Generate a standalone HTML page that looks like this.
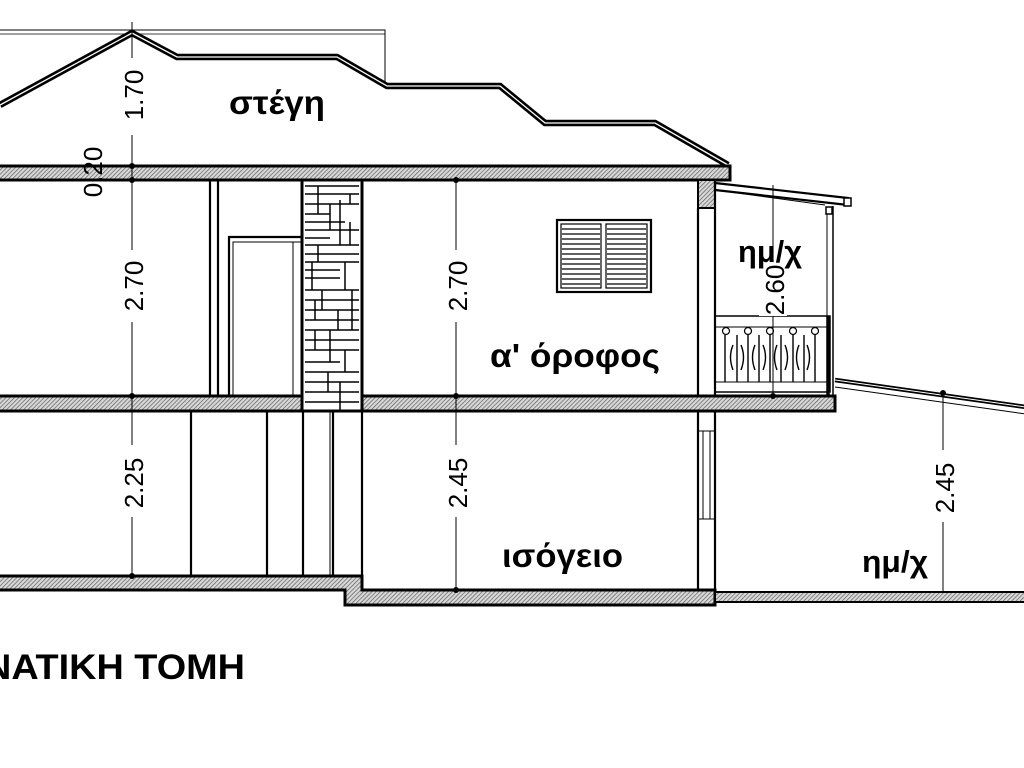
<!DOCTYPE html>
<html><head><meta charset="utf-8"><style>html,body{margin:0;padding:0;background:#fff;width:1024px;height:768px;overflow:hidden}</style></head><body>
<svg width="1024" height="768" viewBox="0 0 1024 768" xmlns="http://www.w3.org/2000/svg" font-family="Liberation Sans, DejaVu Sans, sans-serif">
<defs>
<pattern id="h" width="3" height="3" patternUnits="userSpaceOnUse" patternTransform="rotate(45)">
<rect width="3" height="3" fill="#d8d8d8"/><line x1="0" y1="0" x2="0" y2="3" stroke="#555" stroke-width="1.3"/></pattern>
</defs>
<polyline points="0,30 385,30 385,84" fill="none" stroke="#000" stroke-width="1"/>
<polyline points="0,34 385,34" fill="none" stroke="#000" stroke-width="0.8"/>
<polyline points="0,105 132,33 177,57 337,57 387,86 500,86 545,123 655,123 728,165" fill="none" stroke="#000" stroke-width="6.5"/>
<polyline points="0,105 132,33 177,57 337,57 387,86 500,86 545,123 655,123 728,165" fill="none" stroke="#fff" stroke-width="1.3"/>
<rect x="-2" y="166" width="732" height="14" fill="url(#h)" stroke="#000" stroke-width="3"/>
<rect x="698" y="180" width="17" height="28" fill="url(#h)" stroke="#000" stroke-width="2"/>
<rect x="-2" y="396" width="304" height="15" fill="url(#h)" stroke="#000" stroke-width="3"/>
<rect x="362" y="396" width="473" height="15" fill="url(#h)" stroke="#000" stroke-width="3"/>
<polygon points="-2,576 362,576 362,590 715,590 715,605 345,605 345,590 -2,590" fill="url(#h)" stroke="#000" stroke-width="3"/>
<rect x="715" y="592" width="312" height="10" fill="url(#h)" stroke="#000" stroke-width="2"/>
<rect x="302" y="180" width="60" height="231" fill="#fff" stroke="#000" stroke-width="3"/>
<g stroke="#000" stroke-width="1.5" fill="none">
<path d="M305,186 H359 M305,194 H359 M305,204 H359 M305,214 H330 M330,204 V230 M305,222 H345 M305,230 H359 M340,200 V245 M305,238 H330 M305,245 H359 M318,245 V262 M305,254 H359 M305,262 H359 M345,262 V290 M305,270 H340 M305,278 H340 M305,290 H359 M322,290 V310 M305,300 H359 M305,310 H359 M338,310 V330 M305,320 H359 M305,330 H359 M315,330 V350 M305,340 H359 M305,350 H359 M345,350 V372 M305,362 H340 M305,372 H359 M328,372 V392 M305,382 H359 M305,392 H359 M305,402 H359 M318,186 V214 M350,222 V245 M312,262 V290 M352,290 V330 M330,330 V362 M340,382 V411 M315,300 V320 M350,194 V204"/>
</g>
<g stroke="#000" stroke-width="2.2" fill="none">
<line x1="210" y1="180" x2="210" y2="396"/><line x1="218" y1="180" x2="218" y2="396"/>
<polyline points="229,396 229,237 301,237"/><polyline points="233,396 233,242 301,242" stroke-width="1"/>
<line x1="293" y1="242" x2="293" y2="396" stroke-width="1"/>
<line x1="698" y1="208" x2="698" y2="396"/><line x1="715" y1="180" x2="715" y2="396"/>
<line x1="191" y1="411" x2="191" y2="576"/><line x1="267" y1="411" x2="267" y2="576"/>
<line x1="303" y1="411" x2="303" y2="576"/><line x1="330" y1="411" x2="330" y2="576" stroke-width="1"/><line x1="333" y1="411" x2="333" y2="576"/>
<line x1="362" y1="411" x2="362" y2="590"/>
<line x1="698" y1="411" x2="698" y2="590"/><line x1="715" y1="411" x2="715" y2="590"/>
<line x1="698" y1="431" x2="715" y2="431" stroke-width="1"/><line x1="698" y1="519" x2="715" y2="519" stroke-width="1"/>
<line x1="703" y1="431" x2="703" y2="519" stroke-width="1"/><line x1="710" y1="431" x2="710" y2="519" stroke-width="1"/>
</g>
<rect x="557" y="220" width="94" height="72" fill="#fff" stroke="#000" stroke-width="2.2"/>
<rect x="561" y="224" width="40" height="64" fill="none" stroke="#000" stroke-width="1.2"/>
<rect x="606" y="224" width="41" height="64" fill="none" stroke="#000" stroke-width="1.2"/>
<g stroke="#000" stroke-width="1.2">
<path d="M562,229H600M562,234H600M562,239H600M562,244H600M562,249H600M562,254H600M562,259H600M562,264H600M562,269H600M562,274H600M562,279H600M562,284H600M607,229H646M607,234H646M607,239H646M607,244H646M607,249H646M607,254H646M607,259H646M607,264H646M607,269H646M607,274H646M607,279H646M607,284H646"/></g>
<polygon points="715,183 848,198 848,205 715,190" fill="none" stroke="#000" stroke-width="2.2"/>
<line x1="716" y1="190" x2="825" y2="205" stroke="#000" stroke-width="1"/>
<rect x="844" y="198" width="7" height="8" fill="#fff" stroke="#000" stroke-width="1.5"/>
<rect x="826" y="207" width="6" height="7" fill="#fff" stroke="#000" stroke-width="1.5"/>
<line x1="827" y1="214" x2="827" y2="316" stroke="#000" stroke-width="1"/><line x1="833" y1="206" x2="833" y2="396" stroke="#000" stroke-width="1.5"/>
<rect x="715" y="316" width="115" height="76" fill="none" stroke="#000" stroke-width="1.5"/>
<line x1="828" y1="316" x2="828" y2="396" stroke="#000" stroke-width="3.5"/>
<line x1="715" y1="327" x2="827" y2="327" stroke="#000" stroke-width="1"/>
<line x1="715" y1="382" x2="827" y2="382" stroke="#000" stroke-width="1"/>
<g stroke="#000" stroke-width="1.2" fill="#fff">
<circle cx="726" cy="331" r="3.5"/><circle cx="748" cy="331" r="3.5"/><circle cx="770" cy="331" r="3.5"/><circle cx="793" cy="331" r="3.5"/><circle cx="815" cy="331" r="3.5"/>
</g>
<g stroke="#000" stroke-width="1.4" fill="none">
<path d="M725,335V382M737,335V382M748,335V382M759,335V382M770,335V382M781,335V382M793,335V382M804,335V382M815,335V382"/>
<path d="M733,345Q728,357 733,370M741,345Q746,357 741,370M755,345Q750,357 755,370M763,345Q768,357 763,370M777,345Q772,357 777,370M785,345Q790,357 785,370M799,345Q794,357 799,370M807,345Q812,357 807,370"/>
</g>
<polyline points="835,380 1026,407" fill="none" stroke="#000" stroke-width="4.5"/>
<polyline points="835,380 1026,407" fill="none" stroke="#fff" stroke-width="1"/>
<line x1="835" y1="387" x2="1026" y2="414" stroke="#000" stroke-width="1"/>
<g stroke="#000" stroke-width="1">
<line x1="132" y1="22" x2="132" y2="58"/><line x1="132" y1="135" x2="132" y2="576"/>
<line x1="456" y1="180" x2="456" y2="590"/>
<line x1="773" y1="185" x2="773" y2="396"/>
<line x1="943" y1="393" x2="943" y2="592"/>
</g>
<g fill="#000"><circle cx="132" cy="166" r="3"/><circle cx="132" cy="180" r="3"/><circle cx="132" cy="396" r="3"/><circle cx="132" cy="576" r="3"/>
<circle cx="456" cy="180" r="3"/><circle cx="456" cy="396" r="3"/><circle cx="456" cy="590" r="3"/><circle cx="773" cy="396" r="3"/><circle cx="943" cy="393" r="3"/></g>
<g fill="#fff"><rect x="118" y="60" width="28" height="70"/><rect x="118" y="250" width="28" height="72"/><rect x="118" y="445" width="28" height="72"/><rect x="442" y="250" width="28" height="72"/><rect x="442" y="445" width="28" height="72"/><rect x="929" y="450" width="28" height="72"/><rect x="759" y="262" width="28" height="54"/></g>
<g font-size="26" fill="#000">
<text transform="translate(143,95) rotate(-90)" text-anchor="middle">1.70</text>
<text transform="translate(102,172) rotate(-90)" text-anchor="middle">0.20</text>
<text transform="translate(143,286) rotate(-90)" text-anchor="middle">2.70</text>
<text transform="translate(143,483) rotate(-90)" text-anchor="middle">2.25</text>
<text transform="translate(467,286) rotate(-90)" text-anchor="middle">2.70</text>
<text transform="translate(467,483) rotate(-90)" text-anchor="middle">2.45</text>
<text transform="translate(784,290) rotate(-90)" text-anchor="middle">2.60</text>
<text transform="translate(954,488) rotate(-90)" text-anchor="middle">2.45</text>
</g>
<g font-weight="bold" font-size="33" fill="#000">
<text x="229" y="114" textLength="96" lengthAdjust="spacingAndGlyphs">στέγη</text>
<text x="738" y="262" font-size="31" textLength="64" lengthAdjust="spacingAndGlyphs">ημ/χ</text>
<text x="490" y="367" textLength="170" lengthAdjust="spacingAndGlyphs">α' όροφος</text>
<text x="502" y="567" textLength="121" lengthAdjust="spacingAndGlyphs">ισόγειο</text>
<text x="862" y="572" font-size="31" textLength="66" lengthAdjust="spacingAndGlyphs">ημ/χ</text>
<text x="-16" y="679" font-size="35" textLength="261" lengthAdjust="spacingAndGlyphs">ΝΑΤΙΚΗ ΤΟΜΗ</text>
</g>
</svg>
</body></html>
